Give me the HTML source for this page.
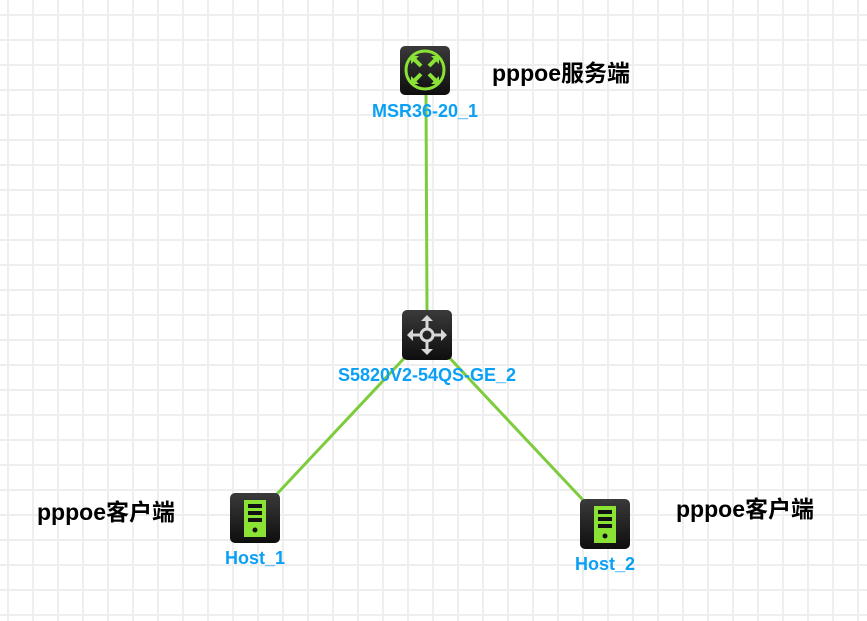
<!DOCTYPE html>
<html><head><meta charset="utf-8"><style>
html,body{margin:0;padding:0;}
body{width:867px;height:621px;overflow:hidden;background:#fff;
background-image:linear-gradient(#eeeeee 2px,transparent 2px),linear-gradient(90deg,#eeeeee 2px,transparent 2px);
background-size:25px 25px;background-position:7px 14px;}
</style></head><body>
<svg width="867" height="621" style="position:absolute;left:0;top:0" font-family="Liberation Sans, sans-serif">
<defs>
<linearGradient id="g" x1="0" y1="0" x2="0" y2="1"><stop offset="0" stop-color="#3a3a3a"/><stop offset="1" stop-color="#0e0e0e"/></linearGradient>
</defs>
<g stroke="#7ccc3c" stroke-width="3">
<line x1="426" y1="95" x2="427" y2="312"/>
<line x1="410" y1="352" x2="276" y2="495"/>
<line x1="444" y1="352" x2="583" y2="500"/>
</g>
<rect x="400" y="46" width="50" height="49" rx="5" fill="url(#g)"/>
<circle cx="425" cy="70" r="19" fill="none" stroke="#8ae234" stroke-width="3"/>
<g stroke="#8ae234" stroke-width="4" fill="none">
<path d="M414 59 L421 66 M436 59 L429 66 M414 81 L421 74 M436 81 L429 74"/>
</g>
<g fill="#8ae234"><path d="M411 56 h8 l-8 8z M439 56 h-8 l8 8z M411 84 h8 l-8 -8z M439 84 h-8 l8 -8z"/></g>
<text x="425" y="117" fill="#0aa0f5" font-size="18" font-weight="bold" text-anchor="middle">MSR36-20_1</text>
<rect x="402" y="310" width="50" height="50" rx="5" fill="url(#g)"/>
<g stroke="#d8d8d8" stroke-width="3" fill="none">
<circle cx="427" cy="335" r="6"/>
<path d="M427 318 V329 M427 341 V352 M410 335 H421 M433 335 H444"/>
</g>
<g fill="#d8d8d8"><path d="M427 315 l-6 6 h12z M427 355 l-6 -6 h12z M407 335 l6 -6 v12z M447 335 l-6 -6 v12z"/></g>
<text x="427" y="381" fill="#0aa0f5" font-size="18" font-weight="bold" text-anchor="middle">S5820V2-54QS-GE_2</text>
<g transform="translate(230,493)">
<rect width="50" height="50" rx="5" fill="url(#g)"/>
<rect x="14" y="7" width="22" height="37" fill="#8ae234"/>
<rect x="18" y="11" width="14" height="4" fill="#111"/>
<rect x="18" y="18" width="14" height="4" fill="#111"/>
<rect x="18" y="25" width="14" height="4" fill="#111"/>
<circle cx="25" cy="37" r="2.5" fill="#111"/>
</g>
<text x="255" y="564" fill="#0aa0f5" font-size="18" font-weight="bold" text-anchor="middle">Host_1</text>
<g transform="translate(580,499)">
<rect width="50" height="50" rx="5" fill="url(#g)"/>
<rect x="14" y="7" width="22" height="37" fill="#8ae234"/>
<rect x="18" y="11" width="14" height="4" fill="#111"/>
<rect x="18" y="18" width="14" height="4" fill="#111"/>
<rect x="18" y="25" width="14" height="4" fill="#111"/>
<circle cx="25" cy="37" r="2.5" fill="#111"/>
</g>
<text x="605" y="570" fill="#0aa0f5" font-size="18" font-weight="bold" text-anchor="middle">Host_2</text>
<g font-family="Liberation Sans, Noto Sans CJK SC, sans-serif" font-size="23" font-weight="bold" fill="#000">
<text x="492" y="81">pppoe服务端</text>
<text x="37" y="520">pppoe客户端</text>
<text x="676" y="517">pppoe客户端</text>
</g>
</svg>
</body></html>
